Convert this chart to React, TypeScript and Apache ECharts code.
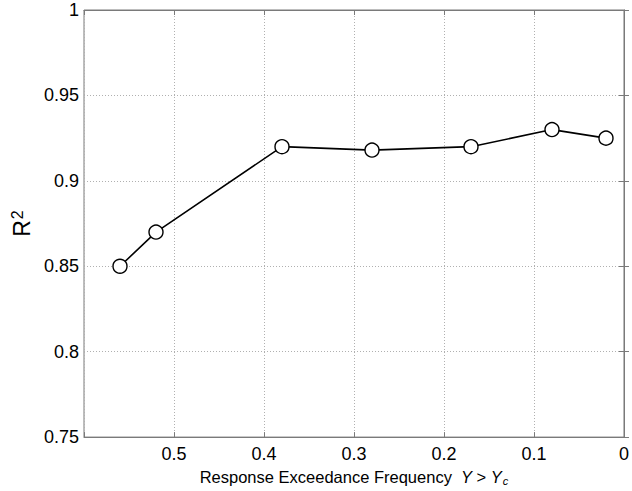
import React, { useEffect, useRef } from "react";
import * as echarts from "echarts";

const freq = [0.56, 0.52, 0.38, 0.28, 0.17, 0.08, 0.02];
const r2 = [0.85, 0.87, 0.92, 0.918, 0.92, 0.93, 0.925];
const xTicks = [0, 0.1, 0.2, 0.3, 0.4, 0.5];
const yTicks = [0.75, 0.8, 0.85, 0.9, 0.95, 1];

const FONT = "Liberation Sans, Arial, Helvetica, sans-serif";
const FRAME = "#7a7a7a";

export default function App() {
  const ref = useRef<HTMLDivElement>(null);
  useEffect(() => {
    if (!ref.current) return;
    const chart = echarts.init(ref.current, undefined, { renderer: "svg" });
    const gridLine = { show: true, lineStyle: { color: "#b0b0b0", type: [1, 2] as any, width: 1 } };
    chart.setOption({
      animation: false,
      backgroundColor: "#ffffff",
      grid: { left: 84, right: 6, top: 10, bottom: 53, show: true, borderColor: FRAME, borderWidth: 1, backgroundColor: "transparent" },
      xAxis: [
        {
          type: "value",
          min: 0,
          max: 0.6,
          interval: 0.1,
          inverse: true,
          axisLine: { show: true, lineStyle: { color: FRAME } },
          axisTick: { show: true, inside: true, length: 5, lineStyle: { color: FRAME } },
          splitLine: gridLine,
          axisLabel: {
            color: "#000",
            fontFamily: FONT,
            fontSize: 18,
            margin: 8,
            formatter: (v: number) => (xTicks.some((t) => Math.abs(t - v) < 1e-9) ? String(Math.round(v * 10) / 10) : ""),
          },
          name: "Response Exceedance Frequency  {i|Y} > {i|Y}{sub|c}",
          nameLocation: "middle",
          nameGap: 22,
          nameTextStyle: {
            color: "#000",
            fontFamily: FONT,
            fontSize: 16.5,
            lineHeight: 18,
            rich: {
              i: { fontStyle: "italic", fontSize: 16.5, lineHeight: 18, fontFamily: FONT, color: "#000" },
              sub: { fontStyle: "italic", fontSize: 11, lineHeight: 18, fontFamily: FONT, color: "#000", verticalAlign: "bottom", padding: [0, 0, 0, 1] },
            },
          },
        },
        {
          type: "value",
          position: "top",
          min: 0,
          max: 0.6,
          interval: 0.1,
          inverse: true,
          axisLine: { show: true, lineStyle: { color: FRAME } },
          axisTick: { show: true, inside: true, length: 5, lineStyle: { color: FRAME } },
          axisLabel: { show: false },
          splitLine: { show: false },
        },
      ],
      yAxis: [
        {
          type: "value",
          min: 0.75,
          max: 1,
          interval: 0.05,
          axisLine: { show: true, lineStyle: { color: FRAME } },
          axisTick: { show: true, inside: true, length: 5, lineStyle: { color: FRAME } },
          splitLine: gridLine,
          axisLabel: {
            color: "#000",
            fontFamily: FONT,
            fontSize: 18,
            margin: 5,
            formatter: (v: number) => {
              const t = yTicks.find((y) => Math.abs(y - v) < 1e-9);
              return t === undefined ? "" : String(t);
            },
          },
          name: "R{sup|2}",
          nameLocation: "middle",
          nameRotate: 90,
          nameGap: 50,
          nameTextStyle: {
            color: "#000",
            fontFamily: FONT,
            fontSize: 23,
            rich: {
              sup: { fontSize: 16, fontFamily: FONT, color: "#000", verticalAlign: "top", padding: [0, 0, 8, 1] },
            },
          },
        },
        {
          type: "value",
          position: "right",
          min: 0.75,
          max: 1,
          interval: 0.05,
          axisLine: { show: true, lineStyle: { color: FRAME } },
          axisTick: { show: true, inside: true, length: 5, lineStyle: { color: FRAME } },
          axisLabel: { show: false },
          splitLine: { show: false },
        },
      ],
      series: [
        {
          type: "line",
          data: freq.map((f, i) => [f, r2[i]]),
          xAxisIndex: 0,
          yAxisIndex: 0,
          symbol: "circle",
          symbolSize: 14,
          showAllSymbol: true,
          lineStyle: { color: "#000", width: 1.6 },
          itemStyle: { color: "#ffffff", borderColor: "#000", borderWidth: 1.4 },
          emphasis: { disabled: true },
        },
      ],
    });
    return () => chart.dispose();
  }, []);
  return <div ref={ref} style={{ width: 632, height: 491, position: "absolute", left: 0, top: 0 }} />;
}
